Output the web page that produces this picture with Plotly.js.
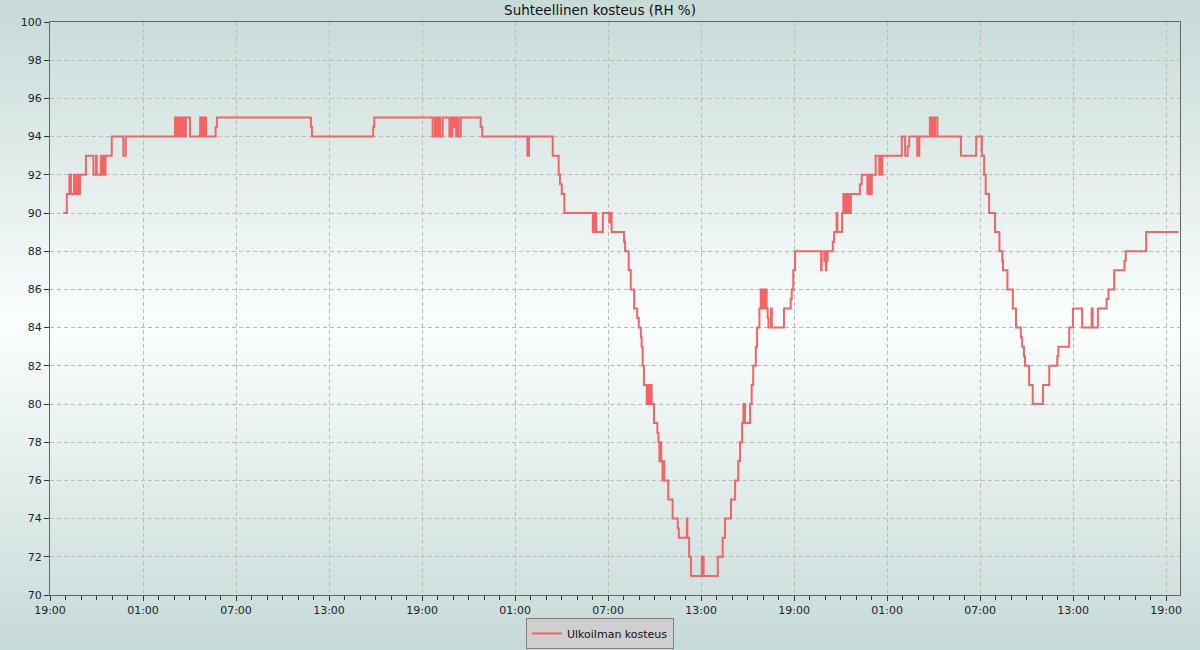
<!DOCTYPE html>
<html>
<head>
<meta charset="utf-8">
<script src="https://cdn.plot.ly/plotly-3.0.1.min.js"></script>
<style>
  html, body { margin: 0; padding: 0; }
  #chart {
    width: 1200px; height: 650px;
    background: linear-gradient(to bottom, #c6dad7 0%, #fbfefe 50%, #c6dad7 100%);
  }
</style>
</head>
<body>
<div id="chart"></div>
<script>
// Start of the time axis (19:00) and end (minutes after start)
const startTime = '2024-01-01 19:00:00';
const rangeEndMinutes = 4374;

// Measurement times (minutes after startTime) where the reading changes
const minutesFromStart = [51,65,75,81,93,99,105,110,116,139,168,178,181,197,201,205,209,215,239,284,293,
  484,488,492,495,499,503,507,513,517,523,526,542,581,586,590,596,600,604,641,646,1010,1014,1251,1255,
  1481,1490,1494,1498,1502,1506,1510,1520,1546,1550,1554,1558,1562,1568,1572,1577,1581,1590,1667,1673,
  1848,1854,1946,1969,1974,1981,1991,2101,2104,2107,2110,2114,2140,2165,2168,2174,2222,2226,2240,2248,
  2261,2273,2279,2287,2290,2294,2299,2310,2315,2321,2325,2329,2338,2351,2355,2359,2363,2366,2371,2374,
  2378,2393,2410,2430,2434,2465,2467,2474,2481,2523,2525,2528,2530,2585,2604,2613,2636,2652,2664,2671,
  2679,2684,2690,2710,2716,2722,2732,2737,2746,2751,2756,2760,2764,2768,2774,2778,2781,2791,2794,2841,
  2867,2871,2877,2884,2985,2987,2997,3003,3005,3008,3010,3030,3035,3045,3048,3066,3071,3076,3079,3083,
  3087,3093,3100,3135,3142,3164,3168,3172,3176,3179,3181,3196,3210,3215,3219,3222,3297,3310,3320,3326,
  3357,3365,3406,3412,3416,3422,3426,3435,3526,3585,3607,3616,3622,3635,3658,3675,3686,3689,3706,3727,
  3739,3758,3763,3770,3774,3790,3804,3844,3868,3899,3903,3945,3960,3995,4032,4036,4056,4090,4097,4119,
  4159,4164,4243,4368];

// Relative humidity (RH %) at those times
const humidity = [90,91,92,91,92,91,92,91,92,93,92,93,92,93,92,93,92,93,94,93,94,
  95,94,95,94,95,94,95,94,95,94,95,94,95,94,95,94,95,94,94.5,95,94.5,94,94.5,95,
  94,95,94,95,94,95,94,95,94,95,94,95,94.5,95,94,95,94,95,94.5,94,
  93,94,93,92,91.5,91,90,89,90,89,90,89,90,89.5,90,89,88.5,88,87,86,
  85,84.5,84,83.5,83,82,81,80,81,80,81,80,79,78.5,78,77,78,77,76,77,
  76,75,74,73.5,73,74,73,72,71,72,71,72,71,72,73,74,75,76,77,78,
  79,80,79,80,81,82,83,84,85,86,85,86,85,86,85,84.5,84,85,84,85,
  85.5,86,87,88,87,88,87.5,87,88,87.5,88,88.5,89,90,89,90,91,90,91,90,
  91,90,91,91.5,92,91,92,91,92,91,92,93,92,93,92,93,94,93,93.5,94,
  93,94,95,94,95,94,95,94,93,94,93,92,91,90,89,88,87.5,87,86,85,
  84,83.5,83,82.5,82,81,80,81,82,82.5,83,84,85,84,85,84,85,85.5,86,87,
  87.5,88,89,89];

const seriesName = 'Ulkoilman kosteus';
const chartTitle = 'Suhteellinen kosteus (RH %)';
const yTicks = [70,72,74,76,78,80,82,84,86,88,90,92,94,96,98,100];

function pad(n) { return (n < 10 ? '0' : '') + n; }
const startMs = Date.UTC(2024, 0, 1, 19, 0, 0);
function toDateStr(mins) {
  const d = new Date(startMs + mins * 60000);
  return d.getUTCFullYear() + '-' + pad(d.getUTCMonth() + 1) + '-' + pad(d.getUTCDate()) + ' ' +
    pad(d.getUTCHours()) + ':' + pad(d.getUTCMinutes()) + ':' + pad(d.getUTCSeconds());
}
const times = minutesFromStart.map(toDateStr);

const font = "'DejaVu Sans', Verdana, sans-serif";

const trace = {
  x: times,
  y: humidity,
  type: 'scatter',
  mode: 'lines',
  name: seriesName,
  line: { color: '#f46464', width: 2, shape: 'hv' },
  showlegend: true
};

const layout = {
  width: 1200, height: 650,
  margin: { l: 50, r: 20, t: 22, b: 55, pad: 0 },
  paper_bgcolor: 'rgba(0,0,0,0)',
  plot_bgcolor: 'rgba(0,0,0,0)',
  font: { family: font, size: 11, color: '#222' },
  title: {
    text: chartTitle,
    x: 0.5, xanchor: 'center', xref: 'container',
    y: 1 - 10 / 650, yanchor: 'middle', yref: 'container',
    font: { family: font, size: 13.5, color: '#111' }
  },
  xaxis: {
    type: 'date',
    range: [toDateStr(0), toDateStr(rangeEndMinutes)],
    tick0: startTime,
    dtick: 6 * 3600000,
    tickformat: '%H:%M',
    ticks: 'outside', ticklen: 5, tickcolor: '#333', tickwidth: 1,
    minor: { dtick: 3600000, tick0: startTime, ticks: 'outside', ticklen: 4, tickcolor: '#333', showgrid: false },
    showgrid: true, gridcolor: '#bcbcbc', griddash: '4px,3px', gridwidth: 1,
    showline: true, linecolor: '#666', linewidth: 1, mirror: true,
    zeroline: false,
    tickfont: { family: font, size: 11, color: '#222' },
    fixedrange: true
  },
  yaxis: {
    range: [70, 100],
    tickvals: yTicks,
    ticktext: yTicks.map(String),
    ticks: 'outside', ticklen: 5, tickcolor: '#333', tickwidth: 1,
    showgrid: true, gridcolor: '#bcbcbc', griddash: '4px,3px', gridwidth: 1,
    showline: true, linecolor: '#666', linewidth: 1, mirror: true,
    zeroline: false,
    tickfont: { family: font, size: 11, color: '#222' },
    fixedrange: true
  },
  legend: {
    orientation: 'h',
    xref: 'container', yref: 'container',
    x: 0.5, xanchor: 'center',
    y: 1 - 618 / 650, yanchor: 'top',
    bgcolor: '#cfcfcf', bordercolor: '#808080', borderwidth: 1,
    font: { family: font, size: 11, color: '#111' },
    itemwidth: 30
  },
  showlegend: true
};

Plotly.newPlot('chart', [trace], layout, { displayModeBar: false, staticPlot: true });
</script>
</body>
</html>
